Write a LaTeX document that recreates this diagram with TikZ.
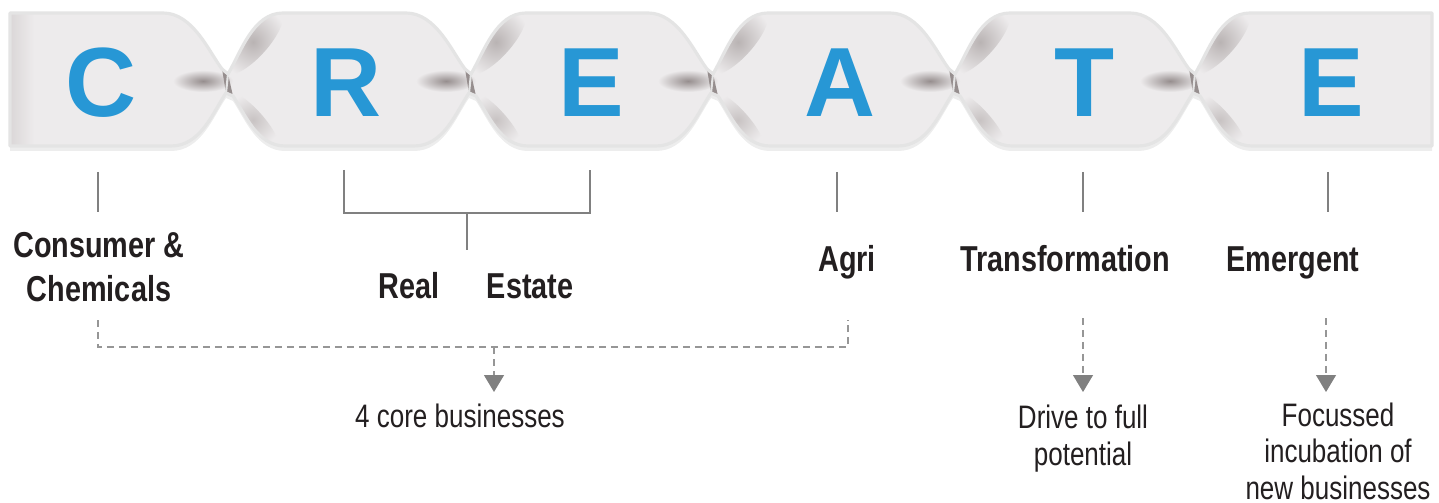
\documentclass[tikz,border=0pt]{standalone}
\usepackage{fontspec}
\setmainfont{Liberation Sans}
\newfontfamily\lblfont[FakeStretch=0.8]{Liberation Sans}
\usetikzlibrary{arrows.meta}
\definecolor{createblue}{RGB}{39,151,213}
\definecolor{ribdark}{RGB}{150,142,142}
\definecolor{ribmid}{RGB}{200,195,195}
\definecolor{riblight}{RGB}{237,235,236}
\definecolor{ribedge}{RGB}{228,228,228}
\definecolor{tickgray}{RGB}{128,128,128}
\definecolor{dashgray}{RGB}{150,150,150}
\definecolor{txtdark}{RGB}{35,31,32}
% whole ribbon outline, necks at the pinch points
\newcommand{\ribbonpath}{(10,13)
	\foreach \p in {225,468,710,952,1192}{ -- ({\p-62},13) .. controls ({\p-32},13) and ({\p-16},52) .. ({\p-3},69) -- ({\p+3},74) .. controls ({\p+16},52) and ({\p+28},13) .. ({\p+58},13) }
	-- (1432,13) -- (1432,146)
	\foreach \p in {1192,952,710,468,225}{ -- ({\p+60},146) .. controls ({\p+32},146) and ({\p+20},114) .. ({\p+8},96) -- ({\p+1},93) .. controls ({\p-12},112) and ({\p-24},146) .. ({\p-54},146) }
	-- (10,146) -- cycle}
\tikzset{
	letter/.style={anchor=base, inner sep=0pt, text=createblue, font=\fontsize{56}{56}\selectfont\bfseries},
	biglbl/.style={anchor=base, inner sep=0pt, align=center, text=txtdark, font=\lblfont\fontsize{20.5}{24.5}\selectfont\bfseries},
	smalllbl/.style={anchor=base, inner sep=0pt, align=center, text=txtdark, font=\lblfont\fontsize{18.5}{20.5}\selectfont},
	tick/.style={draw=tickgray, line width=1.4pt},
	dashline/.style={draw=dashgray, line width=0.7pt, dash pattern=on 0.14cm off 0.1cm},
	dasharrow/.style={dashline, -{Triangle[width=0.4cm,length=0.34cm,color=tickgray]}},
}

\begin{document}
\begin{tikzpicture}[x=0.02cm, y=-0.02cm]
	\useasboundingbox (0,0) rectangle (1439,503);
	\fill[white] (0,0) rectangle (1439,503);
	% ribbon shadow
	\fill[black, opacity=0.07, yshift=-0.1cm] \ribbonpath;
	% ribbon panels
	\begin{scope}
		\clip \ribbonpath;
		\fill[riblight] (0,0) rectangle (1439,160);
		\shade[left color=ribmid!55!riblight, right color=riblight] (8,0) rectangle (34,160);
		\foreach \p in {225,468,710,952,1192}{
			\shade[inner color=ribmid!70!ribdark, outer color=riblight, rotate around={48:({\p+28},42)}] ({\p+28},42) ellipse (42 and 15);
			\shade[inner color=ribmid, outer color=riblight, rotate around={-48:({\p+28},120)}] ({\p+28},120) ellipse (36 and 10);
			\shade[inner color=ribdark, outer color=riblight] ({\p-22},81) ellipse (30 and 11);
			\fill[ribdark] ({\p-3},69) -- ({\p+3},74) -- ({\p+8},96) -- ({\p+1},93) -- cycle;
		}
	\end{scope}
	\draw[ribedge, line width=1.8pt, line join=round] \ribbonpath;
	\foreach \p in {225,468,710,952,1192}
		\draw[ribedge, line width=1.2pt] ({\p+3},74) -- ({\p+1},93);
	% letters
	\foreach \x/\l/\n in {101/C/lC, 346/R/lR, 591/E/lEa, 840/A/lA, 1085/T/lT, 1331/E/lEb}
		\node[letter] (\n) at (\x,117) {\l};
	% labels
	\node[biglbl] (cons) at (99,301) {Consumer \&\\Chemicals};
	\node[biglbl] (realest) at (476,298) {Real\hspace{0.95cm}Estate};
	\node[biglbl] (agri) at (847,271) {Agri};
	\node[biglbl] (trans) at (1065,271) {Transformation};
	\node[biglbl] (emerg) at (1293,271) {Emergent};
	\node[smalllbl] (core) at (460,427) {4 core businesses};
	\node[smalllbl] (drive) at (1083,465) {Drive to full\\potential};
	\node[smalllbl] (incub) at (1338,499) {Focussed\\incubation of\\new businesses};
	% ticks
	\foreach \x in {98,837,1083,1328}{
		\draw[tick] (\x,172) -- ++(0,40);
	}
	\draw[tick] (344,170) -- (344,213) -- (590,213) -- (590,170);
	\draw[tick] (467,213) -- (467,250);
	% dashed links
	\draw[dashline] (98,320) -- (98,347) -- (848,347) -- (848,320);
	\draw[dasharrow] (494,347) -- (494,392);
	\draw[dasharrow] (1083,318) -- (1083,392);
	\draw[dasharrow] (1326,318) -- (1326,392);
\end{tikzpicture}
\end{document}
